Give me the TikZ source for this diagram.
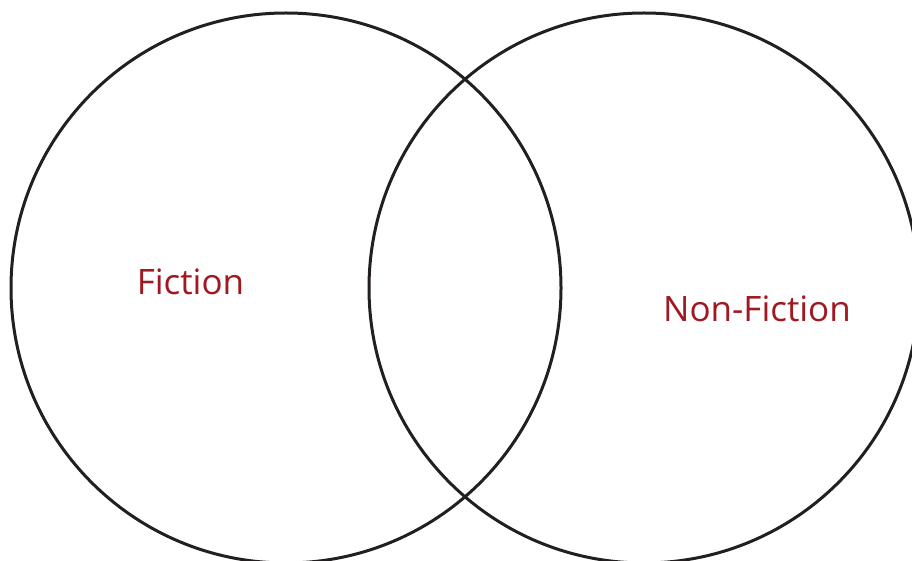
\documentclass[tikz,border=0pt]{standalone}
\usepackage{fontspec}
\setmainfont{Open Sans}
\definecolor{ring}{RGB}{35,31,32}
\definecolor{lbl}{RGB}{160,24,32}
\begin{document}
\begin{tikzpicture}[x=1pt,y=-1pt,
  ringstyle/.style={draw=ring,line width=3pt,circle,minimum size=550pt,inner sep=0pt},
  labelstyle/.style={text=lbl,font=\fontsize{35}{42}\selectfont,inner sep=0pt}]
\useasboundingbox (0,0) rectangle (912,561);
\node[ringstyle] (left) at (286,288) {};
\node[ringstyle] (right) at (644,288) {};
\node[labelstyle] (fic) at (190.5,282) {Fiction};
\node[labelstyle] (nonfic) at (757,309) {Non-Fiction};
\end{tikzpicture}
\end{document}
